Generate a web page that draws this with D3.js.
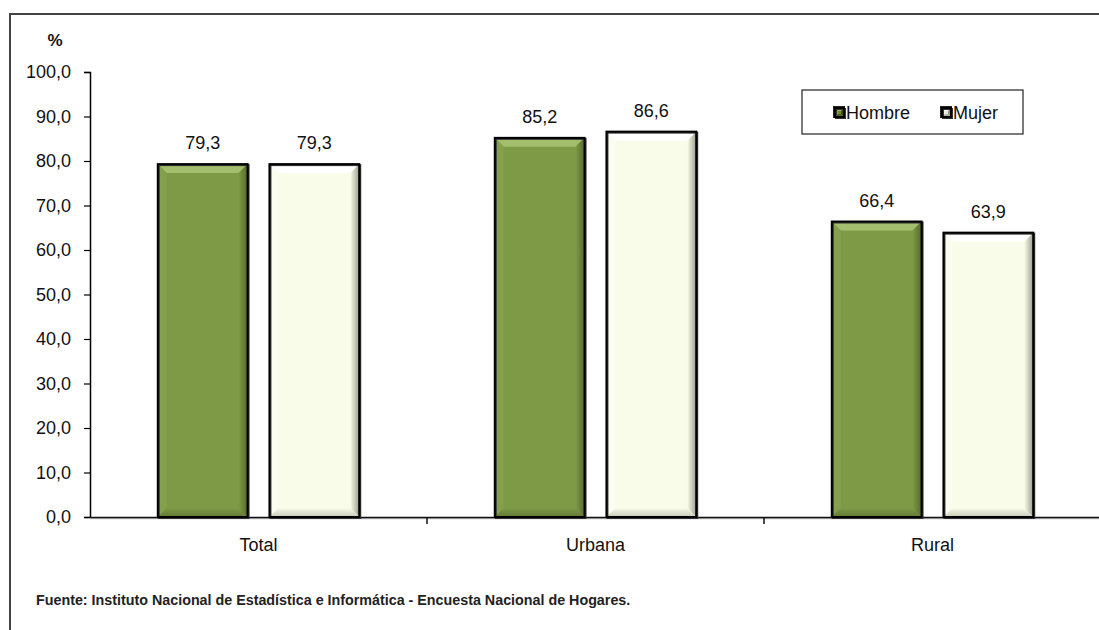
<!DOCTYPE html>
<html><head><meta charset="utf-8">
<script src="https://cdn.jsdelivr.net/npm/d3@7"></script>
<style>html,body{margin:0;padding:0;background:#fff;}svg{display:block;}</style>
</head><body>
<svg id="chart" width="1099" height="630"></svg>
<script>
const categories = ["Total", "Urbana", "Rural"];
const seriesNames = ["Hombre", "Mujer"];
const hombre = [79.3, 85.2, 66.4];
const mujer = [79.3, 86.6, 63.9];
const yTicks = [0, 10, 20, 30, 40, 50, 60, 70, 80, 90, 100];
const sourceText = "Fuente: Instituto Nacional de Estadística e Informática - Encuesta Nacional de Hogares.";

const FONT = "'Liberation Sans',Arial,sans-serif";
const FS = 18;
const svg = d3.select("#chart").style("font-family", FONT);
const fmt = v => d3.format(".1f")(v).replace(".", ",");

const palettes = {
  Hombre: {key: "h", fill: "#7e9a47", top: "#a3be6c", left: "#84a04d", right: ["#7e9a47", "#56692c"], bottom: ["#7e9a47", "#627834"]},
  Mujer:  {key: "m", fill: "#f8fce8", top: "#ffffff", left: "#fbfdf1", right: ["#f8fce8", "#9c9e8e"], bottom: ["#f8fce8", "#c6c9b5"]}
};

const defs = svg.append("defs");
Object.values(palettes).forEach(p => {
  const gr = defs.append("linearGradient").attr("id", "gr-" + p.key).attr("x1", 0).attr("y1", 0).attr("x2", 1).attr("y2", 0);
  gr.append("stop").attr("offset", 0).attr("stop-color", p.right[0]);
  gr.append("stop").attr("offset", 1).attr("stop-color", p.right[1]);
  const gb = defs.append("linearGradient").attr("id", "gb-" + p.key).attr("x1", 0).attr("y1", 0).attr("x2", 0).attr("y2", 1);
  gb.append("stop").attr("offset", 0).attr("stop-color", p.bottom[0]);
  gb.append("stop").attr("offset", 1).attr("stop-color", p.bottom[1]);
});

// frame
svg.append("rect").attr("x", 10).attr("y", 14).attr("width", 1100).attr("height", 630)
  .attr("fill", "none").attr("stroke", "#444").attr("stroke-width", 2);

const x0 = d3.scaleBand().domain(categories).range([90, 1101]).paddingInner(0).paddingOuter(0);
const x1 = d3.scaleBand().domain(seriesNames).range([0, x0.bandwidth()]).paddingInner(0.196).paddingOuter(0.607);
const y = d3.scaleLinear().domain([0, 100]).range([517, 72]);

// y axis
const yAxis = svg.append("g").attr("transform", "translate(90,0)")
  .call(d3.axisLeft(y).tickValues(yTicks).tickFormat(fmt).tickSizeOuter(0).tickSize(6).tickPadding(13));
yAxis.attr("font-family", FONT);
yAxis.select(".domain").attr("stroke", "#000").attr("stroke-width", 1.5);
yAxis.selectAll(".tick line").attr("stroke", "#000").attr("stroke-width", 1.2);
yAxis.selectAll(".tick text").attr("font-size", FS).attr("fill", "#111");

// x axis
svg.append("line").attr("x1", 90).attr("x2", 1099).attr("y1", 518.5).attr("y2", 518.5).attr("stroke", "#bbb").attr("stroke-width", 1.5);
const xAxis = svg.append("g").attr("transform", "translate(0,517)")
  .call(d3.axisBottom(x0).tickSize(0).tickSizeOuter(0).tickPadding(21));
xAxis.attr("font-family", FONT);
xAxis.select(".domain").attr("stroke", "#111").attr("stroke-width", 1.5);
xAxis.selectAll(".tick text").attr("font-size", FS).attr("fill", "#111");
svg.append("g").selectAll("line").data(categories.slice(1)).join("line")
  .attr("x1", d => x0(d)).attr("x2", d => x0(d)).attr("y1", 517).attr("y2", 524)
  .attr("stroke", "#111").attr("stroke-width", 1.5);

function bevelBar(g, bx, by, bw, bh, pal, b, useGrad) {
  const x0p = bx, y0p = by, x1p = bx + bw, y1p = by + bh;
  g.append("rect").attr("x", x0p).attr("y", y0p).attr("width", bw).attr("height", bh).attr("fill", pal.fill);
  const poly = (pts, c) => g.append("polygon").attr("points", pts.map(p => p.join(",")).join(" ")).attr("fill", c);
  poly([[x0p, y0p], [x1p, y0p], [x1p - b, y0p + b], [x0p + b, y0p + b]], pal.top);
  poly([[x0p, y0p], [x0p + b, y0p + b], [x0p + b, y1p - b], [x0p, y1p]], pal.left);
  poly([[x1p, y0p], [x1p, y1p], [x1p - b, y1p - b], [x1p - b, y0p + b]], useGrad ? "url(#gr-" + pal.key + ")" : pal.right);
  poly([[x0p, y1p], [x1p, y1p], [x1p - b, y1p - b], [x0p + b, y1p - b]], useGrad ? "url(#gb-" + pal.key + ")" : pal.bottom);
  g.append("rect").attr("x", x0p + 1).attr("y", y0p + 1).attr("width", bw).attr("height", bh)
    .attr("fill", "none").attr("stroke", "#333").attr("stroke-width", 2);
  g.append("rect").attr("x", x0p).attr("y", y0p).attr("width", bw).attr("height", bh)
    .attr("fill", "none").attr("stroke", "#000").attr("stroke-width", 2);
}

const data = categories.map((c, i) => ({cat: c, vals: [{s: "Hombre", v: hombre[i]}, {s: "Mujer", v: mujer[i]}]}));
const barsG = svg.append("g");
data.forEach(d => {
  d.vals.forEach(e => {
    const bx = x0(d.cat) + x1(e.s);
    const by = y(e.v);
    const g = barsG.append("g");
    bevelBar(g, bx, by, x1.bandwidth(), y(0) - by, palettes[e.s], 9, true);
    svg.append("text").attr("x", bx + x1.bandwidth() / 2).attr("y", by - 15)
      .attr("text-anchor", "middle").attr("font-size", FS).attr("fill", "#111").text(fmt(e.v));
  });
});

// % label
svg.append("text").attr("x", 55).attr("y", 46).attr("text-anchor", "middle")
  .attr("font-size", 17).attr("font-weight", "bold").attr("fill", "#111").text("%");

// legend
const lg = svg.append("g");
lg.append("rect").attr("x", 802).attr("y", 90).attr("width", 221).attr("height", 44)
  .attr("fill", "#fff").attr("stroke", "#222").attr("stroke-width", 1.2);
const legX = [833, 940];
const legPal = [
  {fill: "#6d8a35", top: "#9ab85d", left: "#86a24c", right: "#3c4d1c", bottom: "#4f6325"},
  {fill: "#e8eadb", top: "#ffffff", left: "#f4f6ea", right: "#8e9080", bottom: "#b5b7a6"}
];
seriesNames.forEach((s, i) => {
  const g = lg.append("g");
  const sx = legX[i], sy = 106;
  g.append("rect").attr("x", sx).attr("y", sy).attr("width", 12).attr("height", 12).attr("fill", "#222");
  bevelBar(g.append("g"), sx + 2, sy + 2, 9, 9, legPal[i], 3, false);
  g.append("text").attr("x", sx + 13).attr("y", sy + 13).attr("font-size", FS).attr("fill", "#111").text(s);
});

// source
svg.append("text").attr("x", 36).attr("y", 605).attr("font-size", 14.3).attr("font-weight", "bold")
  .attr("fill", "#222").text(sourceText);
</script>
</body></html>
